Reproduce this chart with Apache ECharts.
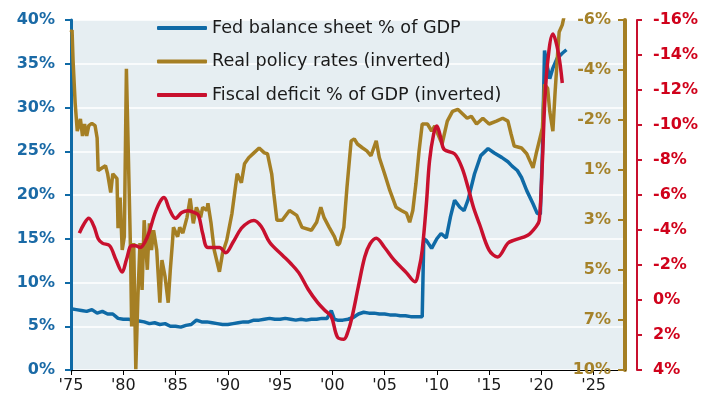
<!DOCTYPE html>
<html><head><meta charset="utf-8">
<script src="https://cdn.jsdelivr.net/npm/echarts@6/dist/echarts.min.js"></script>
<style>html,body{margin:0;padding:0;background:#fff}#c{width:701px;height:406px}</style>
</head><body><div id="c"></div>
<script>
// Fed balance sheet % of GDP (left axis)
const fedBalanceSheet = [
[1975.0,7.0],[1975.5,6.9],[1976.0,6.8],[1976.5,6.7],[1977.0,6.9],[1977.5,6.5],[1978.0,6.7],[1978.5,6.4],
[1979.0,6.4],[1979.5,5.9],[1980.0,5.8],[1980.5,5.8],[1981.0,5.7],[1981.5,5.6],[1982.0,5.5],[1982.5,5.3],
[1983.0,5.4],[1983.5,5.2],[1984.0,5.3],[1984.5,5.0],[1985.0,5.0],[1985.5,4.9],[1986.0,5.1],[1986.5,5.2],
[1987.0,5.7],[1987.5,5.5],[1988.0,5.5],[1988.5,5.4],[1989.0,5.3],[1989.5,5.2],[1990.0,5.2],[1990.5,5.3],
[1991.0,5.4],[1991.5,5.5],[1992.0,5.5],[1992.5,5.7],[1993.0,5.7],[1993.5,5.8],[1994.0,5.9],[1994.5,5.8],
[1995.0,5.8],[1995.5,5.9],[1996.0,5.8],[1996.5,5.7],[1997.0,5.8],[1997.5,5.7],[1998.0,5.8],[1998.5,5.8],
[1999.0,5.9],[1999.5,5.9],[1999.9,6.8],[2000.2,5.8],[2000.5,5.7],[2001.0,5.7],[2001.5,5.8],[2002.0,6.0],
[2002.5,6.4],[2003.0,6.6],[2003.5,6.5],[2004.0,6.5],[2004.5,6.4],[2005.0,6.4],[2005.5,6.3],[2006.0,6.3],
[2006.5,6.2],[2007.0,6.2],[2007.5,6.1],[2008.0,6.1],[2008.6,6.1],[2008.75,15.0],[2009.0,14.8],[2009.5,13.9],
[2010.0,15.0],[2010.4,15.6],[2010.9,15.1],[2011.3,17.5],[2011.7,19.4],[2012.2,18.6],[2012.6,18.2],[2013.0,19.5],
[2013.6,22.4],[2014.2,24.5],[2014.9,25.3],[2015.5,24.8],[2016.2,24.3],[2016.8,23.8],[2017.2,23.3],[2017.7,22.8],
[2018.1,22.0],[2018.6,20.5],[2019.2,19.0],[2019.6,17.9],[2019.9,17.8],[2020.1,25.0],[2020.3,36.5],[2020.6,34.5],
[2020.8,33.3],[2021.1,34.5],[2021.5,35.6],[2022.0,36.2],[2022.4,36.6]
];
// Real policy rates (gold axis, inverted)
const realPolicyRate = [
[1975.0,-5.7],[1975.1,-5.8],[1975.2,-4.4],[1975.4,-2.5],[1975.6,-1.25],[1975.9,-1.8],[1976.1,-1.03],[1976.3,-1.57],
[1976.5,-1.03],[1976.7,-1.5],[1977.0,-1.6],[1977.3,-1.5],[1977.5,-0.94],[1977.6,0.53],[1978.0,0.4],[1978.3,0.31],
[1978.5,0.67],[1978.8,1.51],[1979.0,0.67],[1979.4,0.89],[1979.5,3.12],[1979.7,1.74],[1979.9,4.1],[1980.1,3.5],
[1980.3,-4.06],[1980.5,0.09],[1980.7,4.24],[1980.8,7.54],[1981.0,3.79],[1981.2,9.46],[1981.4,6.2],[1981.6,3.79],
[1981.8,5.9],[1982.0,2.76],[1982.3,4.99],[1982.5,2.9],[1982.7,4.1],[1982.9,3.21],[1983.2,4.1],[1983.5,6.47],
[1983.7,4.55],[1984.0,5.3],[1984.3,6.47],[1984.5,4.99],[1984.7,3.79],[1984.8,3.08],[1985.2,3.5],[1985.4,3.08],
[1985.7,3.34],[1986.1,2.63],[1986.4,1.78],[1986.7,2.9],[1987.0,2.18],[1987.4,2.63],[1987.6,2.18],[1988.0,2.32],
[1988.1,2.0],[1988.4,2.9],[1988.7,4.1],[1989.2,5.08],[1989.5,4.24],[1989.9,3.66],[1990.4,2.45],[1990.9,0.67],
[1991.3,1.07],[1991.6,0.22],[1992.0,-0.05],[1992.5,-0.27],[1993.0,-0.49],[1993.5,-0.27],[1993.8,-0.23],[1994.2,0.67],
[1994.4,1.56],[1994.7,2.76],[1995.2,2.76],[1995.9,2.32],[1996.6,2.54],[1997.1,3.08],[1998.0,3.21],[1998.5,2.85],
[1998.9,2.18],[1999.2,2.63],[1999.7,3.08],[2000.2,3.5],[2000.5,3.88],[2000.7,3.79],[2001.1,3.08],[2001.4,1.29],
[2001.8,-0.81],[2002.1,-0.9],[2002.4,-0.67],[2002.9,-0.49],[2003.3,-0.36],[2003.7,-0.14],[2004.2,-0.81],[2004.5,-0.05],
[2005.0,0.67],[2005.5,1.42],[2006.1,2.18],[2006.6,2.32],[2007.1,2.45],[2007.4,2.85],[2007.7,2.32],[2008.0,1.11],
[2008.3,-0.36],[2008.6,-1.57],[2009.1,-1.57],[2009.5,-1.25],[2009.8,-1.48],[2010.1,-1.12],[2010.5,-0.67],[2011.0,-1.7],
[2011.5,-2.14],[2012.0,-2.23],[2012.5,-2.01],[2012.9,-1.83],[2013.3,-1.92],[2013.8,-1.57],[2014.4,-1.83],[2015.0,-1.57],
[2015.7,-1.7],[2016.3,-1.83],[2016.8,-1.7],[2017.1,-1.12],[2017.4,-0.58],[2018.1,-0.49],[2018.6,-0.23],[2018.9,0.09],
[2019.2,0.4],[2019.5,-0.23],[2019.8,-0.81],[2020.1,-1.39],[2020.3,-3.35],[2020.6,-3.17],[2020.8,-2.14],[2021.1,-1.25],
[2021.3,-2.9],[2021.5,-4.37],[2021.7,-5.71],[2022.0,-6.03],[2022.2,-6.47]
];
// Fiscal deficit % of GDP (red axis, inverted)
const fiscalDeficit = [
[1975.8,-3.82],[1976.2,-4.3],[1976.7,-4.67],[1977.2,-4.2],[1977.6,-3.5],[1978.0,-3.25],[1978.7,-3.1],[1979.3,-2.3],
[1979.9,-1.6],[1980.3,-2.3],[1980.8,-3.1],[1981.2,-3.1],[1981.6,-3.0],[1982.3,-3.6],[1983.0,-4.9],[1983.5,-5.6],
[1983.9,-5.86],[1984.4,-5.2],[1985.0,-4.67],[1985.6,-5.0],[1986.2,-5.1],[1986.8,-5.0],[1987.2,-4.84],[1987.6,-3.8],
[1988.1,-3.0],[1989.2,-3.0],[1989.8,-2.7],[1990.5,-3.3],[1991.3,-4.1],[1992.0,-4.45],[1992.5,-4.55],[1993.2,-4.2],
[1994.0,-3.3],[1995.2,-2.57],[1996.0,-2.1],[1996.8,-1.55],[1997.7,-0.6],[1998.6,0.15],[1999.3,0.6],[1999.9,0.94],
[2000.5,2.13],[2001.1,2.24],[2001.5,1.8],[2001.9,0.94],[2002.5,-0.8],[2003.1,-2.46],[2003.6,-3.2],[2004.2,-3.53],
[2005.0,-3.0],[2005.9,-2.29],[2007.1,-1.55],[2007.9,-1.04],[2008.3,-1.8],[2008.6,-2.85],[2009.0,-5.5],[2009.3,-7.95],
[2009.7,-9.5],[2010.0,-9.94],[2010.4,-9.2],[2010.7,-8.6],[2011.7,-8.35],[2012.4,-7.56],[2013.0,-6.4],[2013.5,-5.3],
[2014.1,-4.3],[2015.0,-2.85],[2015.8,-2.46],[2016.8,-3.25],[2017.4,-3.42],[2018.7,-3.7],[2019.5,-4.2],[2019.8,-4.55],
[2020.1,-7.95],[2020.3,-11.0],[2020.6,-13.6],[2021.1,-15.2],[2021.6,-14.2],[2022.0,-12.4]
];
const seriesNames = ['Fed balance sheet % of GDP','Real policy rates (inverted)','Fiscal deficit % of GDP (inverted)'];
const goldTickValues = [-6.25,-4,-1.75,0.5,2.75,5,7.25,9.5];
const goldTickLabels = ['-6%','-4%','-2%','1%','3%','5%','7%','10%'];

const BLUE='#0f6aa6', GOLD='#a57f24', RED='#c8102e';
const FONT='DejaVu Sans';
const chart = echarts.init(document.getElementById('c'), null, {renderer:'canvas'});
chart.setOption({
  animation:false,
  grid:{left:71,right:76,top:20,bottom:36,show:true,backgroundColor:'#e6eef2',borderWidth:0},
  legend:{
    orient:'vertical', left:152, top:13, itemWidth:50, itemHeight:4, itemGap:13.5, icon:'roundRect',
    data:seriesNames,
    textStyle:{fontFamily:FONT,fontSize:17.6,color:'#1a1a1a',lineHeight:20}
  },
  xAxis:{
    type:'value', min:1975, max:2028, interval:5,
    axisLine:{lineStyle:{color:'#000',width:1}},
    axisTick:{show:true,length:5,lineStyle:{color:'#000'}},
    axisLabel:{fontFamily:FONT,fontSize:16,color:'#1a1a1a',margin:8,
      formatter:v=>"'"+String(v).slice(2), showMaxLabel:false},
    splitLine:{show:false}
  },
  yAxis:[
    {type:'value',position:'left',min:0,max:40,interval:5,
     axisLine:{show:true,lineStyle:{color:BLUE,width:3}},
     axisTick:{show:true,length:6,lineStyle:{color:BLUE,width:2}},
     axisLabel:{fontFamily:FONT,fontWeight:'bold',fontSize:16,color:'#1a6aa6',margin:16,formatter:'{value}%'},
     splitLine:{show:true,lineStyle:{color:'#ffffff',width:1.5}}},
    {type:'value',position:'right',min:-6.25,max:9.5,inverse:true,
     axisLine:{show:true,lineStyle:{color:GOLD,width:4}},
     axisTick:{show:true,inside:true,length:7,lineStyle:{color:GOLD,width:2},customValues:goldTickValues},
     axisLabel:{inside:true,margin:14,fontFamily:FONT,fontWeight:'bold',fontSize:16,color:'#a5822a',
       customValues:goldTickValues,
       formatter:v=>{const i=goldTickValues.findIndex(t=>Math.abs(t-v)<1e-6);return i>=0?goldTickLabels[i]:'';}},
     splitLine:{show:false}},
    {type:'value',position:'right',offset:12,min:-16,max:4,interval:2,inverse:true,
     axisLine:{show:true,lineStyle:{color:RED,width:2}},
     axisTick:{show:true,length:5,lineStyle:{color:RED,width:2}},
     axisLabel:{fontFamily:FONT,fontWeight:'bold',fontSize:16,color:'#d0021b',margin:16,formatter:'{value}%'},
     splitLine:{show:false}}
  ],
  series:[
    {name:seriesNames[0],type:'line',yAxisIndex:0,data:fedBalanceSheet,symbol:'none',
     lineStyle:{color:BLUE,width:3.5},itemStyle:{color:BLUE}},
    {name:seriesNames[1],type:'line',yAxisIndex:1,data:realPolicyRate,symbol:'none',
     lineStyle:{color:GOLD,width:3.5},itemStyle:{color:GOLD}},
    {name:seriesNames[2],type:'line',yAxisIndex:2,data:fiscalDeficit,symbol:'none',smooth:0.35,
     lineStyle:{color:RED,width:3.5},itemStyle:{color:RED}}
  ]
});
</script></body></html>
